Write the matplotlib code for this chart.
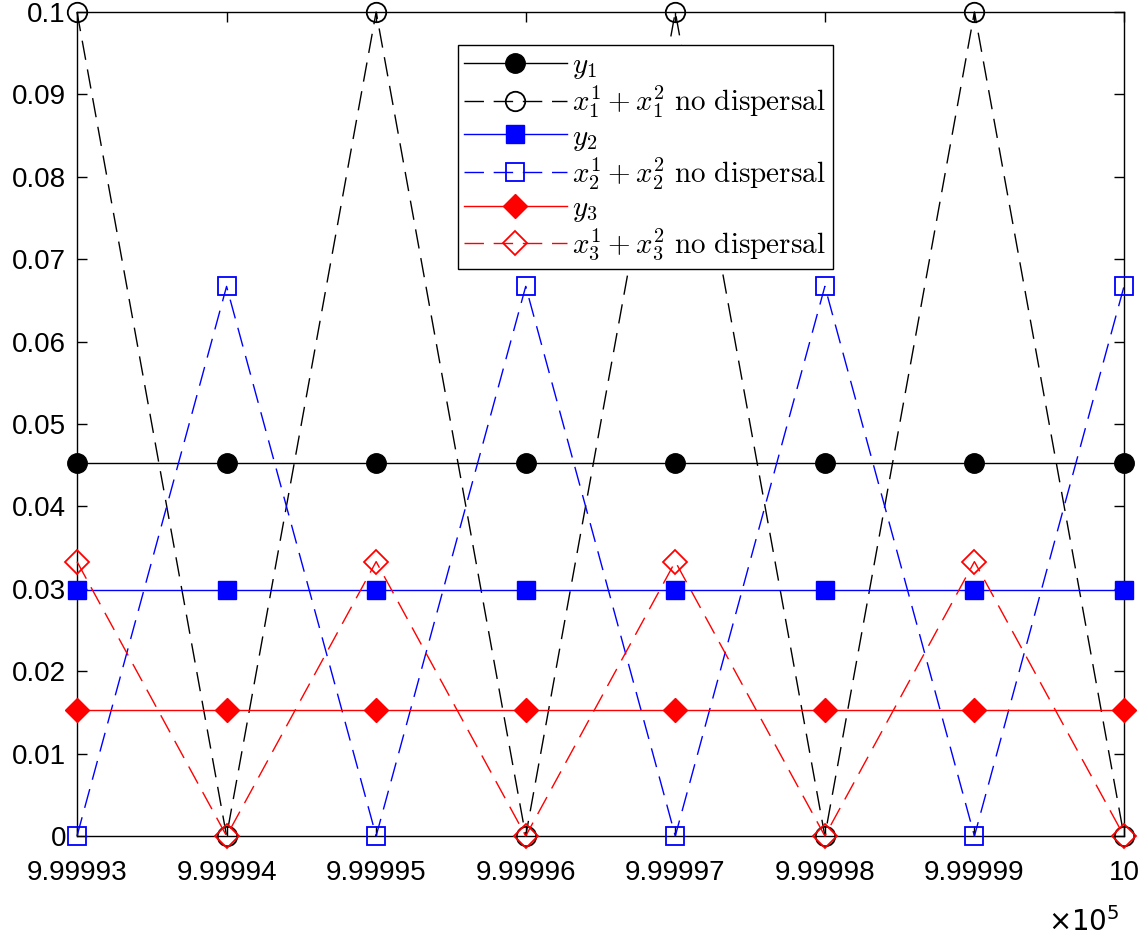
import matplotlib
matplotlib.use("Agg")
import matplotlib.pyplot as plt
from matplotlib.ticker import FuncFormatter, MultipleLocator

plt.rcParams['font.family'] = ['Liberation Sans', 'DejaVu Sans']
plt.rcParams['mathtext.fontset'] = 'cm'

t = [999993, 999994, 999995, 999996, 999997, 999998, 999999, 1000000]
y1 = [0.0453] * 8
y2 = [0.0299] * 8
y3 = [0.0153] * 8
x1 = [0.1, 0, 0.1, 0, 0.1, 0, 0.1, 0]
x2 = [0, 0.0667, 0, 0.0667, 0, 0.0667, 0, 0.0667]
x3 = [0.0333, 0, 0.0333, 0, 0.0333, 0, 0.0333, 0]

labels = [r'$y_1$', r'$x_1^1+x_1^2\ \mathrm{no\ dispersal}$',
          r'$y_2$', r'$x_2^1+x_2^2\ \mathrm{no\ dispersal}$',
          r'$y_3$', r'$x_3^1+x_3^2\ \mathrm{no\ dispersal}$']

fig = plt.figure(figsize=(11.4, 9.38), dpi=100)
ax = fig.add_axes([77/1140, 1-836/938, (1124-77)/1140, (836-12)/938])

dash = (0, (14, 7))
lw = 1.0
ax.plot(t, y1, color='k', lw=lw, marker='o', ms=14, mfc='k', mec='k', label=labels[0], clip_on=False, zorder=3)
ax.plot(t, x1, color='k', lw=lw, ls=dash, marker='o', ms=14, mfc='none', mec='k', mew=1.3, label=labels[1], clip_on=False, zorder=3)
ax.plot(t, y2, color='#0000ff', lw=lw, marker='s', ms=13, mfc='#0000ff', mec='#0000ff', label=labels[2], clip_on=False, zorder=3)
ax.plot(t, x2, color='#0000ff', lw=lw, ls=dash, marker='s', ms=13, mfc='none', mec='#0000ff', mew=1.3, label=labels[3], clip_on=False, zorder=3)
ax.plot(t, y3, color='#ff0000', lw=lw, marker='D', ms=12, mfc='#ff0000', mec='#ff0000', label=labels[4], clip_on=False, zorder=3)
ax.plot(t, x3, color='#ff0000', lw=lw, ls=dash, marker='D', ms=12, mfc='none', mec='#ff0000', mew=1.3, label=labels[5], clip_on=False, zorder=3)

ax.set_xlim(999993, 1000000)
ax.set_ylim(0, 0.1)
ax.xaxis.set_major_locator(MultipleLocator(1))
ax.yaxis.set_major_locator(MultipleLocator(0.01))
ax.xaxis.set_major_formatter(FuncFormatter(lambda v, p: '%g' % round(v / 1e5, 5)))
ax.yaxis.set_major_formatter(FuncFormatter(lambda v, p: '%g' % round(v, 3)))
ax.tick_params(direction='in', length=7, width=1, labelsize=20, top=True, right=True, pad=8)
ax.tick_params(axis='x', pad=17)
for s in ax.spines.values():
    s.set_linewidth(1.0)

fig.text(1120/1140, 1-922/938, r'$\times10^5$', fontsize=20, ha='right', va='center',
         math_fontfamily='dejavusans')

leg = ax.legend(loc='upper left', bbox_to_anchor=((458-77)/1047, 1-(45-12)/824),
                fontsize=21, handlelength=3.5, frameon=True, fancybox=False,
                edgecolor='k', framealpha=1, borderpad=0.22, labelspacing=0.08,
                handletextpad=0.2, borderaxespad=0)
leg.get_frame().set_linewidth(1.0)

fig.savefig('out.png', dpi=100)
